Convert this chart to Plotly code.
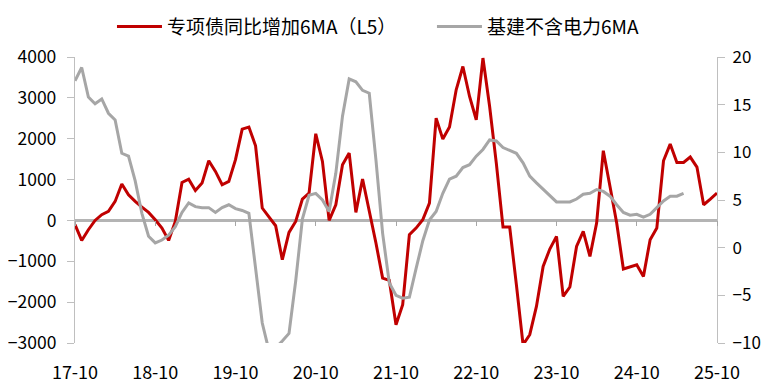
import pandas as pd
import plotly.graph_objects as go

# Monthly categories 2017-10 .. 2025-10
months = [d.strftime("%Y-%m") for d in pd.date_range("2017-10-01", "2025-10-01", freq="MS")]

tick_months = ["2017-10", "2018-10", "2019-10", "2020-10", "2021-10",
               "2022-10", "2023-10", "2024-10", "2025-10"]
tick_labels = ["17-10", "18-10", "19-10", "20-10", "21-10",
               "22-10", "23-10", "24-10", "25-10"]

# 专项债同比增加6MA (left axis)
special_bond = [
    -100, -490, -228, 0, 140, 220, 465, 890, 629, 465,
    328, 196, 17, -187, -489, -24, 930, 1010, 734, 914,
    1461, 1200, 873, 955, 1487, 2236, 2285, 1828, 303, 98,
    -130, -962, -294, -24, 523, 670, 2121, 1444, 0, 384,
    1363, 1649, 196, 1013, 262, -553, -1410, -1468, -2552, -2063,
    -350, -187, 17, 425, 2505, 1991, 2285, 3198, 3768, 3034,
    2464, 3974, 2790, 1404, -163, -163, -1573, -3042, -2797, -2104,
    -1126, -700, -391, -1860, -1630, -636, -269, -881, -65, 1706,
    832, -65, -1190, -1141, -1084, -1370, -472, -187, 1461, 1869,
    1419, 1419, 1551, 1306, 384, 523, 670,
]

# 基建不含电力6MA (right axis)
infra_ex_power = [
    17.5, 18.9, 15.8, 15.1, 15.6, 14.1, 13.4, 9.9, 9.6, 7.0,
    3.6, 1.2, 0.5, 0.8, 1.3, 2.2, 3.7, 4.7, 4.3, 4.2,
    4.2, 3.7, 4.2, 4.5, 4.1, 3.9, 3.6, -2.3, -7.9, -10.8,
    -10.5, -9.8, -9.0, -3.5, 3.0, 5.5, 5.7, 5.0, 3.8, 7.8,
    13.8, 17.7, 17.4, 16.5, 16.2, 9.2, 1.5, -3.7, -5.0, -5.3,
    -5.2, -2.2, 0.7, 2.9, 3.8, 5.7, 7.2, 7.5, 8.4, 8.7,
    9.6, 10.3, 11.3, 11.2, 10.5, 10.2, 9.9, 8.9, 7.5, 6.8,
    6.1, 5.4, 4.8, 4.8, 4.8, 5.1, 5.6, 5.7, 6.1, 5.9,
    5.4, 4.5, 3.7, 3.4, 3.5, 3.2, 3.5, 4.2, 4.9, 5.4,
    5.4, 5.7,
]

FONT = "Microsoft YaHei, Noto Sans CJK SC, sans-serif"
AX = "#BFBFBF"

fig = go.Figure()
fig.add_trace(go.Scatter(
    x=months[:len(infra_ex_power)], y=infra_ex_power, name="基建不含电力6MA",
    mode="lines", line=dict(color="#A6A6A6", width=3), yaxis="y2",
    legend="legend2",
))
fig.add_trace(go.Scatter(
    x=months, y=special_bond, name="专项债同比增加6MA（L5）",
    mode="lines", line=dict(color="#C00000", width=3),
    legend="legend",
))
# empty helper trace so the zero-line tick axis is rendered
fig.add_trace(go.Scatter(x=[], y=[], xaxis="x2", showlegend=False, hoverinfo="skip"))

legend_common = dict(orientation="h", y=1.04, yanchor="bottom", xanchor="left",
                     font=dict(size=19, color="#000000"), itemwidth=45,
                     bgcolor="rgba(0,0,0,0)")

fig.update_layout(
    template="none",
    width=770, height=386,
    # page body adds an 8px offset; margins compensate so the plot area sits at 75..717 x 57..343
    margin=dict(l=67, r=61, t=49, b=51, autoexpand=False),
    paper_bgcolor="white", plot_bgcolor="white",
    font=dict(family=FONT, size=18, color="#000000"),
    showlegend=True,
    legend=dict(x=0.0576, **legend_common),
    legend2=dict(x=0.556, **legend_common),
    xaxis=dict(
        type="category", categoryorder="array", categoryarray=months,
        range=[0, len(months) - 1], automargin=False,
        tickmode="array", tickvals=tick_months, ticktext=tick_labels,
        showline=False, ticks="", showgrid=False, zeroline=False,
        ticklabelstandoff=17,
        tickfont=dict(size=18, color="#000000"),
    ),
    xaxis2=dict(
        overlaying="x", anchor="free", position=3 / 7, automargin=False,
        range=[0, len(months) - 1],
        tickmode="array", tickvals=[months.index(m) for m in tick_months],
        showticklabels=False, ticks="outside", ticklen=5, tickwidth=1.3,
        tickcolor="#A6A6A6", showline=False, showgrid=False, zeroline=False,
    ),
    yaxis=dict(
        range=[-3000, 4000], dtick=1000, tick0=0, automargin=False,
        showline=True, linecolor=AX, linewidth=1.3,
        ticks="outside", ticklen=7, tickcolor=AX, tickwidth=1.3,
        showgrid=False, zeroline=True, zerolinecolor="#B4B4B4", zerolinewidth=2.5,
        ticklabelstandoff=7,
        tickfont=dict(size=17.5, color="#000000"),
    ),
    yaxis2=dict(
        range=[-10, 20], dtick=5, tick0=0, overlaying="y", side="right",
        automargin=False,
        showline=True, linecolor=AX, linewidth=1.3,
        ticks="outside", ticklen=7, tickcolor=AX, tickwidth=1.3,
        showgrid=False, zeroline=False,
        ticklabelstandoff=4,
        tickfont=dict(size=17, color="#000000"),
    ),
)

fig.write_html("out.html")
